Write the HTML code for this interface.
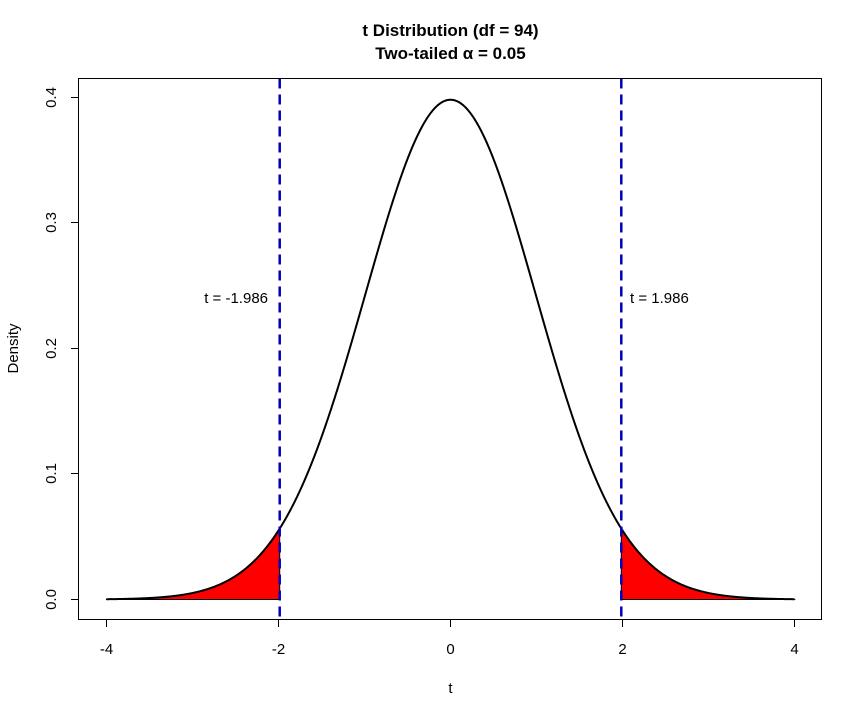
<!DOCTYPE html>
<html><head><meta charset="utf-8"><style>
body{margin:0;background:#fff}
svg text{font-family:"Liberation Sans",Arial,sans-serif;fill:#000}
</style></head><body>
<svg id="s" width="862" height="717" xmlns="http://www.w3.org/2000/svg">
<rect x="0" y="0" width="862" height="717" fill="#fff"/>
<g id="g"></g>
<rect x="78.5" y="78.5" width="743" height="541" fill="none" stroke="#000" stroke-width="1"/>
<g stroke="#000" stroke-width="1">
<line x1="106.5" y1="619.5" x2="794.5" y2="619.5"/>
<line x1="106.5" y1="619.5" x2="106.5" y2="627"/>
<line x1="278.5" y1="619.5" x2="278.5" y2="627"/>
<line x1="450.5" y1="619.5" x2="450.5" y2="627"/>
<line x1="622.5" y1="619.5" x2="622.5" y2="627"/>
<line x1="794.5" y1="619.5" x2="794.5" y2="627"/>
<line x1="78.5" y1="599.5" x2="78.5" y2="97.5"/>
<line x1="78.5" y1="599.5" x2="71" y2="599.5"/>
<line x1="78.5" y1="473.5" x2="71" y2="473.5"/>
<line x1="78.5" y1="348.5" x2="71" y2="348.5"/>
<line x1="78.5" y1="222.5" x2="71" y2="222.5"/>
<line x1="78.5" y1="97.5" x2="71" y2="97.5"/>
</g>
<g font-size="15" text-anchor="middle">
<text x="106.5" y="654">-4</text><text x="278.5" y="654">-2</text><text x="450.5" y="654">0</text><text x="622.5" y="654">2</text><text x="794.5" y="654">4</text>
<text x="450.5" y="693">t</text>
<text transform="translate(56,599.5) rotate(-90)">0.0</text>
<text transform="translate(56,473.5) rotate(-90)">0.1</text>
<text transform="translate(56,348.5) rotate(-90)">0.2</text>
<text transform="translate(56,222.5) rotate(-90)">0.3</text>
<text transform="translate(56,97.5) rotate(-90)">0.4</text>
<text transform="translate(18,348.5) rotate(-90)">Density</text>
<text x="268" y="303" text-anchor="end">t = -1.986</text>
<text x="630" y="303" text-anchor="start">t = 1.986</text>
</g>
<g font-size="17" font-weight="bold" text-anchor="middle">
<text x="450.5" y="36">t Distribution (df = 94)</text>
<text x="450.5" y="59">Two-tailed α = 0.05</text>
</g>
</svg>
<script>
var df=94,tc=1.986;
function lg(z){var c=[76.18009172947146,-86.50532032941677,24.01409824083091,-1.231739572450155,0.1208650973866179e-2,-0.5395239384953e-5];var x=z,y=z,t=x+5.5;t-=(x+0.5)*Math.log(t);var s=1.000000000190015;for(var j=0;j<6;j++)s+=c[j]/++y;return -t+Math.log(2.5066282746310005*s/x);}
var k=Math.exp(lg((df+1)/2)-lg(df/2))/Math.sqrt(df*Math.PI);
function d(t){return k*Math.pow(1+t*t/df,-(df+1)/2);}
function X(t){return 450.5+86*t;}function Y(v){return 599.5-1256*v;}
var h='';
var p='M'+X(-4)+' '+Y(0);for(var t=-4;t<=-tc;t+=0.01)p+=' L'+X(t)+' '+Y(d(t));p+=' L'+X(-tc)+' '+Y(d(tc))+' L'+X(-tc)+' '+Y(0)+'Z';
h+='<path d="'+p+'" fill="#f00" stroke="#000" stroke-width="1"/>';
p='M'+X(tc)+' '+Y(0)+' L'+X(tc)+' '+Y(d(tc));for(var t=tc;t<=4.001;t+=0.01)p+=' L'+X(t)+' '+Y(d(t));p+=' L'+X(4)+' '+Y(0)+'Z';
h+='<path d="'+p+'" fill="#f00" stroke="#000" stroke-width="1"/>';
p='';for(var i=0;i<=800;i++){var t=-4+i*0.01;p+=(i?' L':'M')+X(t).toFixed(2)+' '+Y(d(t)).toFixed(2);}
h+='<path d="'+p+'" fill="none" stroke="#000" stroke-width="2"/>';
h+='<line x1="'+X(-tc)+'" y1="78.5" x2="'+X(-tc)+'" y2="619.5" stroke="#0000bb" stroke-width="2.5" stroke-dasharray="10,6"/>';
h+='<line x1="'+X(tc)+'" y1="78.5" x2="'+X(tc)+'" y2="619.5" stroke="#0000bb" stroke-width="2.5" stroke-dasharray="10,6"/>';
document.getElementById('g').innerHTML=h;
</script>
</body></html>
